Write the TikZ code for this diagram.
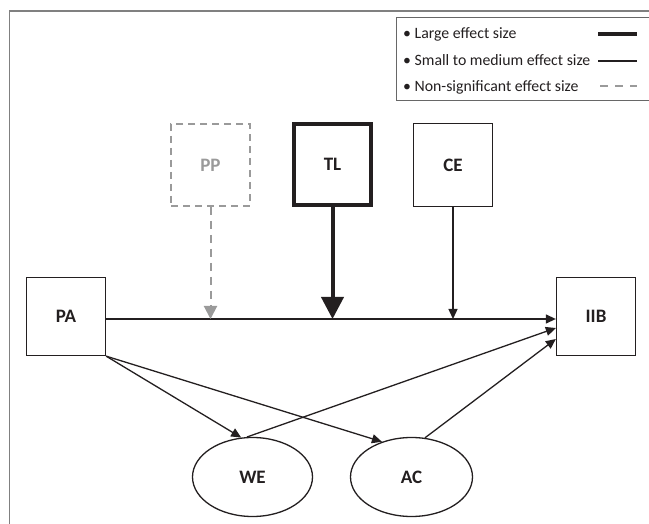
\documentclass[tikz,border=0pt]{standalone}
\usepackage{fontspec}
\setmainfont{Carlito}
\usetikzlibrary{arrows.meta,shapes.geometric}
\definecolor{ink}{HTML}{231F20}
\definecolor{ppgray}{HTML}{9A9A9A}
\definecolor{rimgray}{HTML}{808080}

\begin{document}
\begin{tikzpicture}[x=1pt, y=-1pt,
  box/.style = {shape=rectangle, draw=ink, line width=1.3pt, inner sep=0pt, text=ink,
    font=\bfseries\fontsize{19}{22}\selectfont},
  oval/.style = {shape=ellipse, draw=ink, line width=1.3pt, inner sep=0pt, text=ink,
    minimum height=79pt, font=\bfseries\fontsize{19}{22}\selectfont},
  link/.style = {draw=ink, line width=1.3pt, -{Triangle[length=10pt,width=9pt]}},
  keytext/.style = {anchor=base west, inner sep=0pt, text=ink, font=\fontsize{15.8}{18}\selectfont}]
  \useasboundingbox (0,0) rectangle (649,524);
  % frame and legend
  \draw[rimgray, line width=1.5pt] (9.5,524) -- (9.5,11) -- (649,11);
  \draw[rimgray!80!black, line width=1pt] (652,18) -| (396,101) -- (652,101);
  \node[keytext] (lgLarge) at (403,39) {• Large effect size};
  \node[keytext] (lgSmall) at (403,66) {• Small to medium effect size};
  \node[keytext] (lgNon) at (403,91.5) {• Non-significant effect size};
  \draw[ink, line width=3.5pt] (598,34) -- (637,34);
  \draw[ink, line width=1.3pt] (598,61) -- (637,61);
  \draw[ppgray, line width=2pt, dash pattern=on 8pt off 7pt] (600,86.5) -- (637,86.5);

  % constructs
  \node[box, draw=ppgray, text=ppgray, line width=2pt, dash pattern=on 7pt off 5pt,
    minimum width=79pt, minimum height=82pt] (PP) at (210.5,165) {PP};
  \node[box, line width=4pt, minimum width=77pt, minimum height=81pt] (TL) at (332.5,164.5) {TL};
  \node[box, minimum width=79pt, minimum height=83pt] (CE) at (453,165) {CE};
  \node[box, minimum width=79pt, minimum height=78pt] (PA) at (66,316.5) {PA};
  \node[box, minimum width=79pt, minimum height=78pt] (IIB) at (596,316.5) {IIB};
  \node[oval, minimum width=120pt] (WE) at (252.5,477) {WE};
  \node[oval, minimum width=122pt] (AC) at (411.5,477) {AC};

  % paths
  \coordinate (mainline) at ([yshift=-2.5pt]PA.east);
  \draw[link] (mainline) -- ([yshift=-2.5pt]IIB.west);
  \draw[ppgray, line width=2pt, dash pattern=on 8pt off 6pt,
    -{Triangle[length=13pt,width=13pt]}] (PP.south) -- (PP.south |- mainline);
  \draw[ink, line width=4pt, -{Triangle[length=22pt,width=22pt]}] (TL.south) -- (TL.south |- mainline);
  \draw[link] (CE.south) -- (CE.south |- mainline);
  \draw[link] (PA.south east) -- (WE.106);
  \draw[link] (PA.south east) -- (AC.130);
  \draw[link] (WE.98) -- ([yshift=-11.5pt]IIB.west);
  \draw[link] (AC.71) -- ([yshift=-22.5pt]IIB.west);
\end{tikzpicture}
\end{document}
